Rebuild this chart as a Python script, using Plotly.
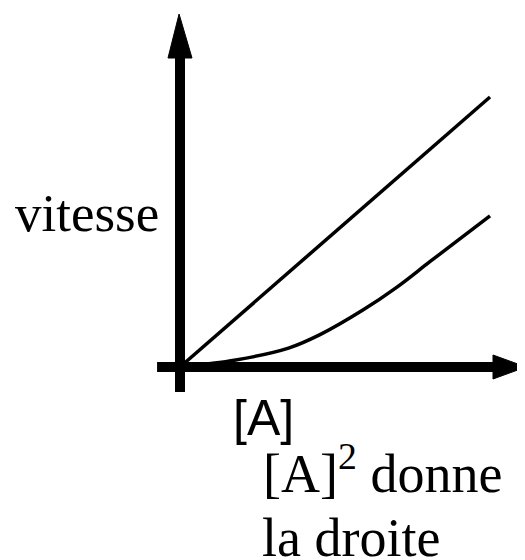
import plotly.graph_objects as go

# data (arbitrary units: [A] on x, vitesse on y)
conc_lin = [0, 10]
rate_lin = [0, 10]
conc_sq = [0, 1.8, 3.5, 4.5, 5.9, 7.0, 8.05, 9.1, 10.0]
rate_sq = [0, 0.26, 0.70, 1.19, 2.11, 2.96, 3.89, 4.81, 5.6]

D = 8  # page body margin
W, H = 525 - D, 560 - D
# pixel mapping (figure coords): 31 px per x unit, 27 px per y unit
SX, SY = 31.0, 27.0
OX, OY = 180.0 - D, 367.0 - D
xr = [-OX / SX, (W - OX) / SX]
yr = [-(H - OY) / SY, OY / SY]

fig = go.Figure()
fig.add_trace(go.Scatter(x=conc_lin, y=rate_lin, mode="lines",
                         line=dict(color="black", width=3.5), hoverinfo="skip"))
fig.add_trace(go.Scatter(x=conc_sq, y=rate_sq, mode="lines",
                         line=dict(color="black", width=3.5, shape="spline", smoothing=1.0),
                         hoverinfo="skip"))

shapes = []
# y axis shaft
shapes.append(dict(type="line", xref="x", yref="y", x0=0, x1=0, y0=-0.93, y1=11.5,
                   line=dict(color="black", width=10)))
# x axis shaft
shapes.append(dict(type="line", xref="x", yref="y", x0=-0.74, x1=10.2, y0=0, y1=0,
                   line=dict(color="black", width=10)))
# arrow heads
hw = 12 / SX
shapes.append(dict(type="path", xref="x", yref="y",
                   path=f"M {-hw} {(367-58)/SY} L {-0.03} {(367-14)/SY} L {hw} {(367-58)/SY} Z",
                   fillcolor="black", line=dict(color="black", width=1)))
hh = 12 / SY
shapes.append(dict(type="path", xref="x", yref="y",
                   path=f"M {(493-180)/SX} {-hh} L {(526-180)/SX} 0 L {(493-180)/SX} {hh} Z",
                   fillcolor="black", line=dict(color="black", width=1)))

serif = "Liberation Serif, Times New Roman, serif"
sans = "Liberation Sans, Arial, sans-serif"
ann = [
    dict(text="vitesse", x=5 / W, y=1 - 205 / H, xanchor="left", yanchor="middle",
         font=dict(family=serif, size=53, color="black")),
    dict(text="[A]", x=223 / W, y=1 - 410 / H, xanchor="left", yanchor="middle",
         font=dict(family=sans, size=50, color="black")),
    dict(text="[A]<sup>2</sup> donne", x=253 / W, y=1 - 461 / H, xanchor="left",
         yanchor="middle", font=dict(family=serif, size=54, color="black")),
    dict(text="la droite", x=252 / W, y=1 - 530 / H, xanchor="left", yanchor="middle",
         font=dict(family=serif, size=54, color="black")),
]
for a in ann:
    a.update(xref="paper", yref="paper", showarrow=False)

fig.update_layout(
    width=W, height=H, margin=dict(l=0, r=0, t=0, b=0),
    paper_bgcolor="white", plot_bgcolor="white", showlegend=False,
    xaxis=dict(range=xr, visible=False, fixedrange=True),
    yaxis=dict(range=yr, visible=False, fixedrange=True),
    shapes=shapes, annotations=ann,
)
fig.write_html("out.html")
